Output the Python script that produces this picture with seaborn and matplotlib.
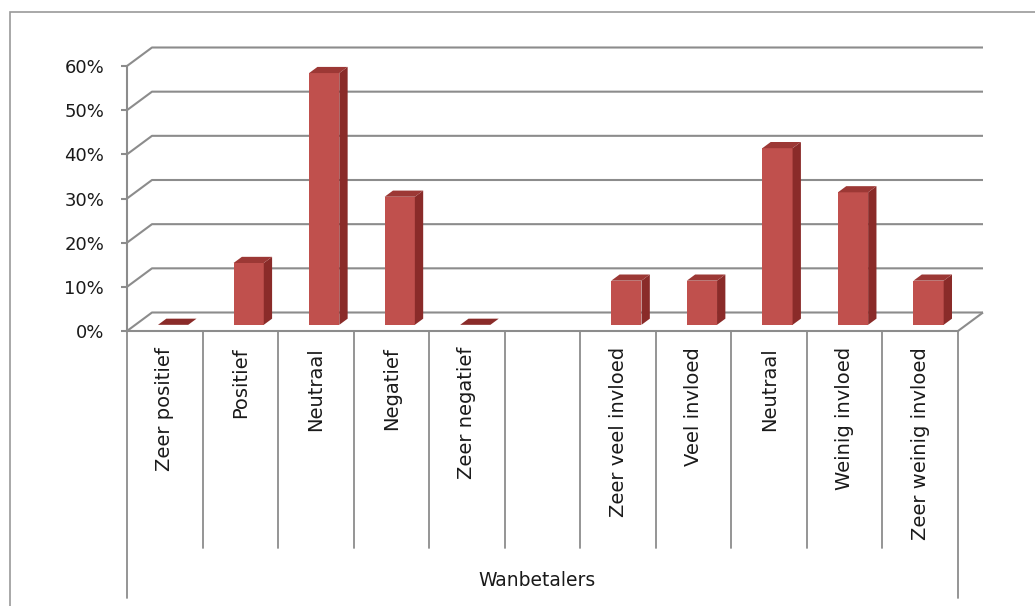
import numpy as np
import pandas as pd
import seaborn as sns
import matplotlib.pyplot as plt
from matplotlib import transforms
from matplotlib.lines import Line2D
from matplotlib.patches import Polygon, Rectangle
from matplotlib.ticker import PercentFormatter

# Survey answers (share of respondents); the empty slot separates the two questions
categories = ["Zeer positief", "Positief", "Neutraal", "Negatief", "Zeer negatief", "",
              "Zeer veel invloed", "Veel invloed", "Neutraal", "Weinig invloed",
              "Zeer weinig invloed"]
shares = [0.00, 0.14, 0.57, 0.29, 0.00, np.nan, 0.10, 0.10, 0.40, 0.30, 0.10]
y_ticks = [0.0, 0.1, 0.2, 0.3, 0.4, 0.5, 0.6]
group_title = "Wanbetalers"

sns.set_theme(style="white")
plt.rcParams["font.family"] = ["DejaVu Sans"]

W, H = 1035, 606
fig = plt.figure(figsize=(W / 100, H / 100), dpi=100)
fig.patch.set_facecolor("white")

# front plane of the 3-D box, in pixels
x_left, x_right, y_zero, y_top = 127, 958, 331, 66
ax = fig.add_axes([x_left / W, 1 - y_zero / H, (x_right - x_left) / W, (y_zero - y_top) / H])
ax.set_facecolor("none")

FACE, SIDE, TOP = "#c0504d", "#8a2b29", "#9c3835"
GRID = "#8c8c8c"
TEXT = "#1a1a1a"

df = pd.DataFrame({"slot": [str(i) for i in range(len(categories))], "share": shares})
sns.barplot(data=df, x="slot", y="share", order=list(df["slot"]), color=FACE,
            saturation=1, width=0.4, errorbar=None, ax=ax, zorder=3)

n = len(categories)
ax.set_xlim(-0.5, n - 0.5)
ax.set_ylim(0, 0.6)
ax.set_autoscale_on(False)

# depth of the floor (front edge -> back wall) expressed in data units
ox, oy = ax.transData.transform((0, 0))
dx, dy = ax.transData.inverted().transform((ox + 25, oy + 18.5))

# back wall gridlines and the side-wall diagonals
grid_kw = dict(color=GRID, lw=1.5, clip_on=False, zorder=1, solid_capstyle="butt")
for v in y_ticks:
    ax.plot([-0.5, -0.5 + dx, n - 0.5 + dx], [v, v + dy, v + dy], **grid_kw)
ax.plot([n - 0.5, n - 0.5 + dx], [0, dy], **grid_kw)

# extrude every bar into a box sitting in the middle third of the floor depth
for p in list(ax.patches):
    h = p.get_height()
    if not np.isfinite(h):
        p.remove()
        continue
    w = p.get_width()
    x0 = p.get_x() + dx / 3
    y0 = p.get_y() + dy / 3
    p.set_x(x0)
    p.set_y(y0)
    p.set_edgecolor("none")
    p.set_clip_on(False)
    ex, ey = dx / 3, dy / 3
    if h > 0:
        ax.add_patch(Polygon([(x0 + w, y0), (x0 + w + ex, y0 + ey),
                              (x0 + w + ex, y0 + h + ey), (x0 + w, y0 + h)],
                             closed=True, fc=SIDE, ec="none", zorder=3, clip_on=False))
    ax.add_patch(Polygon([(x0, y0 + h), (x0 + w, y0 + h),
                          (x0 + w + ex, y0 + h + ey), (x0 + ex, y0 + h + ey)],
                         closed=True, fc=TOP if h > 0 else SIDE, ec="none", zorder=4,
                         clip_on=False))

# front axis lines
for side in ("top", "right"):
    ax.spines[side].set_visible(False)
for side in ("left", "bottom"):
    ax.spines[side].set_visible(True)
    ax.spines[side].set_color(GRID)
    ax.spines[side].set_linewidth(1.5)
    ax.spines[side].set_zorder(5)

ax.set_yticks(y_ticks)
ax.yaxis.set_major_formatter(PercentFormatter(1, decimals=0))
ax.tick_params(axis="y", length=4.5, width=1.5, color=GRID, direction="out",
               pad=12, labelsize=13, labelcolor=TEXT, left=True)
ax.set_xticks(range(n))
ax.set_xticklabels(categories, rotation=90)
ax.tick_params(axis="x", length=0, pad=11.5, labelsize=14, labelcolor=TEXT)
ax.set_xlabel("")
ax.set_ylabel("")

# category separators below the floor
blend = transforms.blended_transform_factory(ax.transData, fig.transFigure)
for k in range(n + 1):
    y_end = 598 if k in (0, n) else 548
    ax.add_line(Line2D([k - 0.5, k - 0.5], [1 - y_zero / H, 1 - y_end / H], transform=blend,
                       color=GRID, lw=1.3, clip_on=False, zorder=2))

fig.text(537 / W, 1 - 580 / H, group_title, ha="center", va="center",
         fontsize=13.5, color=TEXT)

# chart area border
fig.add_artist(Rectangle((10 / W, -0.1), 1.2, 1.1 - 12 / H, transform=fig.transFigure,
                         fill=False, ec="#9a9a9a", lw=1.2))

fig.savefig("out.png", dpi=100)
